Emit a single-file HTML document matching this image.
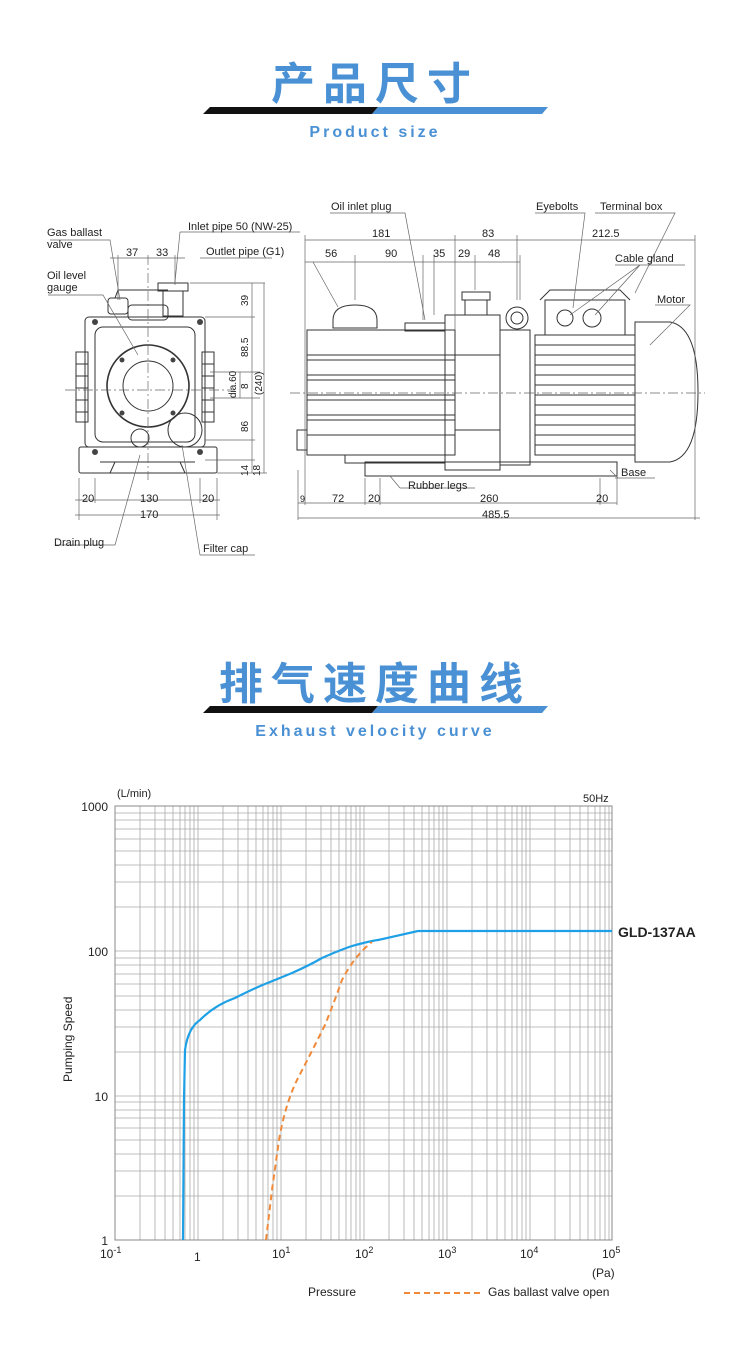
<!DOCTYPE html>
<html><head><meta charset="utf-8"><style>
html,body{margin:0;padding:0;background:#fff;}
body{width:750px;height:1371px;position:relative;overflow:hidden;font-family:"Liberation Sans",sans-serif;}
.t{position:absolute;left:0;width:750px;text-align:center;color:#4a90d4;}
.cn{font-family:"Liberation Sans","Noto Sans CJK SC",sans-serif;font-size:44px;letter-spacing:8px;font-weight:bold;}
.en{font-size:16px;letter-spacing:3px;font-weight:bold;}
svg{position:absolute;left:0;top:0;}
</style></head><body>
<div class="t cn" style="top:48px">产品尺寸</div>
<div class="t en" style="top:124px">Product size</div>
<div class="t cn" style="top:648px">排气速度曲线</div>
<div class="t en" style="top:723px">Exhaust velocity curve</div>
<svg width="750" height="1371" viewBox="0 0 750 1371" font-family="Liberation Sans, sans-serif">
<polygon points="210,107 378,107 372,114 203,114" fill="#111"/>
<polygon points="378,107 548,107 542,114 372,114" fill="#4a90d4"/>
<polygon points="210,706 378,706 372,713 203,713" fill="#111"/>
<polygon points="378,706 548,706 542,713 372,713" fill="#4a90d4"/>

<g stroke="#333" fill="none" stroke-width="1">
<rect x="85" y="317" width="120" height="130" rx="4"/>
<rect x="95" y="327" width="100" height="115" rx="8"/>
<rect x="79" y="447" width="138" height="26" rx="2"/>
<path d="M100 462 h95 M110 473 l5-11 M185 473 l-5-11"/>
<rect x="128" y="305" width="40" height="15" rx="4"/>
<rect x="158" y="283" width="30" height="8"/>
<rect x="163" y="291" width="20" height="25"/>
<rect x="108" y="298" width="20" height="16" rx="3"/>
<path d="M115 298 l3-8 h50"/>
<circle cx="148" cy="386" r="41" stroke-width="1.6"/>
<circle cx="148" cy="386" r="25"/>
<circle cx="140" cy="438" r="9"/>
<circle cx="185" cy="430" r="17"/>
<rect x="76" y="352" width="12" height="70"/>
<rect x="202" y="352" width="12" height="70"/>
<path d="M76 364h12M76 376h12M76 388h12M76 400h12M76 412h12M202 364h12M202 376h12M202 388h12M202 400h12M202 412h12"/>
</g>
<g fill="#444">
<circle cx="95" cy="322" r="3"/><circle cx="200" cy="322" r="3"/><circle cx="95" cy="452" r="3"/><circle cx="200" cy="452" r="3"/>
<circle cx="122" cy="360" r="2.5"/><circle cx="173" cy="360" r="2.5"/><circle cx="122" cy="413" r="2.5"/><circle cx="173" cy="413" r="2.5"/>
</g>
<g stroke="#666" stroke-width="0.7" fill="none">
<path d="M148 255 V480" stroke-dasharray="10,3,2,3"/>
<path d="M65 390 H235" stroke-dasharray="10,3,2,3"/>
<path d="M118 255 v45 M175 255 v30 M110 258 h75"/>
<path d="M190 283 h75 M205 317 h50 M205 440 h50 M205 460 h50 M217 473 h50 M210 372 h50 M210 398 h50"/>
<path d="M252 283 V473 M264 283 V473 M240 372 V398"/>
<path d="M79 478 V520 M217 478 V520 M95 478 v25 M200 478 v25 M75 500 h145 M75 515 h145"/>
<path d="M50 240 h60 l10 60 M48 295 h55 l35 60 M180 232 h120 M180 232 l-5 50 M200 258 h72"/>
<path d="M55 545 h60 l25-90 M200 555 h55 M200 555 l-18 -110"/>
</g>
<g font-size="11" fill="#222">
<text x="47" y="236">Gas ballast</text><text x="47" y="248">valve</text>
<text x="47" y="279">Oil level</text><text x="47" y="291">gauge</text>
<text x="188" y="230">Inlet pipe 50 (NW-25)</text>
<text x="206" y="255">Outlet pipe (G1)</text>
<text x="126" y="256">37</text><text x="156" y="256">33</text>
<text x="54" y="546">Drain plug</text><text x="203" y="552">Filter cap</text>
<text x="82" y="502">20</text><text x="140" y="502">130</text><text x="202" y="502">20</text><text x="140" y="518">170</text>
<g font-size="10">
<text transform="translate(248,306) rotate(-90)">39</text>
<text transform="translate(248,357) rotate(-90)">88.5</text>
<text transform="translate(236,398) rotate(-90)">dia.60</text>
<text transform="translate(248,389) rotate(-90)">8</text>
<text transform="translate(248,432) rotate(-90)">86</text>
<text transform="translate(248,476) rotate(-90)">14</text>
<text transform="translate(260,476) rotate(-90)">18</text>
<text transform="translate(262,395) rotate(-90)">(240)</text>
</g>
</g>

<g stroke="#333" fill="none" stroke-width="1">
<rect x="307" y="330" width="148" height="125"/>
<path d="M307 355h148M307 360h148M307 375h148M307 380h148M307 395h148M307 400h148M307 415h148M307 420h148M307 435h148"/>
<path d="M333 320 q0-15 22-15 q22 0 22 15 v8 h-44z"/>
<rect x="405" y="323" width="40" height="8"/>
<rect x="445" y="315" width="55" height="155"/>
<rect x="500" y="330" width="30" height="135"/>
<rect x="455" y="355" width="45" height="75"/>
<rect x="462" y="292" width="28" height="8"/><rect x="465" y="300" width="22" height="15"/>
<circle cx="517" cy="318" r="11"/><circle cx="517" cy="318" r="6"/>
<rect x="535" y="335" width="100" height="120"/>
<path d="M535 345h100M535 355h100M535 365h100M535 375h100M535 385h100M535 395h100M535 405h100M535 415h100M535 425h100M535 435h100M535 445h100"/>
<path d="M635 322 h35 q28 5 28 70 q0 65-28 70 h-35z"/>
<rect x="545" y="300" width="80" height="35"/>
<path d="M540 300 l10-10 h70 l10 10"/>
<circle cx="565" cy="318" r="8"/><circle cx="592" cy="318" r="9"/>
<rect x="365" y="462" width="252" height="14"/>
<rect x="297" y="430" width="10" height="20"/>
<rect x="345" y="455" width="100" height="8"/>
</g>
<g stroke="#666" stroke-width="0.7" fill="none">
<path d="M290 393 H705" stroke-dasharray="10,3,2,3"/>
<path d="M305 235 V505 M455 235 V330 M517 235 V300 M695 235 V520 M355 255 V300 M423 255 V320 M434 255 v60 M475 255 v35 M520 255 v45"/>
<path d="M305 240 H695 M305 262 H520"/>
<path d="M298 470 V520 M365 478 V505 M380 478 V505 M600 478 V505 M617 478 V505 M298 503 H617 M298 518 H700"/>
<path d="M330 213 h75 l20 107 M313 262 l25 45 M535 213 h50 l-12 95 M595 213 h80 l-40 80 M615 265 h70 M640 265 l-70 50 M640 265 l-45 50 M655 305 h35 l-40 40 M615 478 h40 M610 470 l8 8 M400 488 h75 M400 488 l-10 -12"/>
</g>
<g font-size="11" fill="#222">
<text x="331" y="210">Oil inlet plug</text><text x="536" y="210">Eyebolts</text><text x="600" y="210">Terminal box</text>
<text x="615" y="262">Cable gland</text><text x="657" y="303">Motor</text><text x="621" y="476">Base</text>
<text x="408" y="489">Rubber legs</text>
<text x="372" y="237">181</text><text x="482" y="237">83</text><text x="592" y="237">212.5</text>
<text x="325" y="257">56</text><text x="385" y="257">90</text><text x="433" y="257">35</text><text x="458" y="257">29</text><text x="488" y="257">48</text>
<text x="300" y="502" font-size="9">9</text><text x="332" y="502">72</text><text x="368" y="502">20</text><text x="480" y="502">260</text><text x="596" y="502">20</text><text x="482" y="518">485.5</text>
</g>

<g stroke="#aaa" stroke-width="0.8">
<path d="
M140 806V1240M155 806V1240M165 806V1240M173 806V1240M180 806V1240M185 806V1240M190 806V1240M194 806V1240M198 806V1240
M223 806V1240M238 806V1240M248 806V1240M256 806V1240M263 806V1240M268 806V1240M273 806V1240M277 806V1240M281 806V1240
M306 806V1240M321 806V1240M331 806V1240M339 806V1240M346 806V1240M351 806V1240M356 806V1240M360 806V1240M364 806V1240
M389 806V1240M404 806V1240M414 806V1240M422 806V1240M429 806V1240M434 806V1240M439 806V1240M443 806V1240M447 806V1240
M472 806V1240M487 806V1240M497 806V1240M505 806V1240M512 806V1240M517 806V1240M522 806V1240M526 806V1240M530 806V1240
M555 806V1240M570 806V1240M580 806V1240M588 806V1240M595 806V1240M600 806V1240M605 806V1240M609 806V1240M612 806V1240"/>
<path d="
M115 813H612M115 820H612M115 829H612M115 839H612M115 851H612M115 865H612M115 882H612M115 907H612M115 951H612
M115 958H612M115 965H612M115 974H612M115 984H612M115 996H612M115 1010H612M115 1027H612M115 1052H612M115 1096H612
M115 1102H612M115 1110H612M115 1118H612M115 1128H612M115 1140H612M115 1154H612M115 1171H612M115 1196H612"/>
</g>
<path d="M115 806H612V1240H115Z" fill="none" stroke="#888" stroke-width="1"/>
<path d="M183 1240 L184 1100 L185 1050 Q188 1028 200 1020 Q215 1005 235 998 Q255 988 265 984 Q280 978 292 973 Q310 965 322 958 Q340 950 352 946 Q370 941 378 940 L418 931 L612 931" fill="none" stroke="#1ea0e6" stroke-width="2.2"/>
<path d="M266 1240 L272 1190 L279 1140 Q285 1105 297 1080 Q310 1055 325 1025 Q335 1000 342 980 Q355 955 372 942" fill="none" stroke="#f08a3a" stroke-width="2" stroke-dasharray="6,4"/>
<g font-size="12" fill="#222">
<text x="117" y="797" font-size="11">(L/min)</text>
<text x="583" y="802" font-size="11">50Hz</text>
<text x="108" y="811" text-anchor="end">1000</text>
<text x="108" y="956" text-anchor="end">100</text>
<text x="108" y="1101" text-anchor="end">10</text>
<text x="108" y="1245" text-anchor="end">1</text>
<text transform="translate(72,1082) rotate(-90)" font-size="12">Pumping Speed</text>
<text x="100" y="1258">10<tspan font-size="9" dy="-5">-1</tspan></text>
<text x="194" y="1261">1</text>
<text x="272" y="1258">10<tspan font-size="9" dy="-5">1</tspan></text>
<text x="355" y="1258">10<tspan font-size="9" dy="-5">2</tspan></text>
<text x="438" y="1258">10<tspan font-size="9" dy="-5">3</tspan></text>
<text x="520" y="1258">10<tspan font-size="9" dy="-5">4</tspan></text>
<text x="602" y="1258">10<tspan font-size="9" dy="-5">5</tspan></text>
<text x="592" y="1277">(Pa)</text>
<text x="308" y="1296">Pressure</text>
<text x="488" y="1296">Gas ballast valve open</text>
<text x="618" y="937" font-weight="bold" font-size="14">GLD-137AA</text>
</g>
<path d="M404 1293 H480" stroke="#f08a3a" stroke-width="2" stroke-dasharray="6,4"/>
</svg>
</body></html>
